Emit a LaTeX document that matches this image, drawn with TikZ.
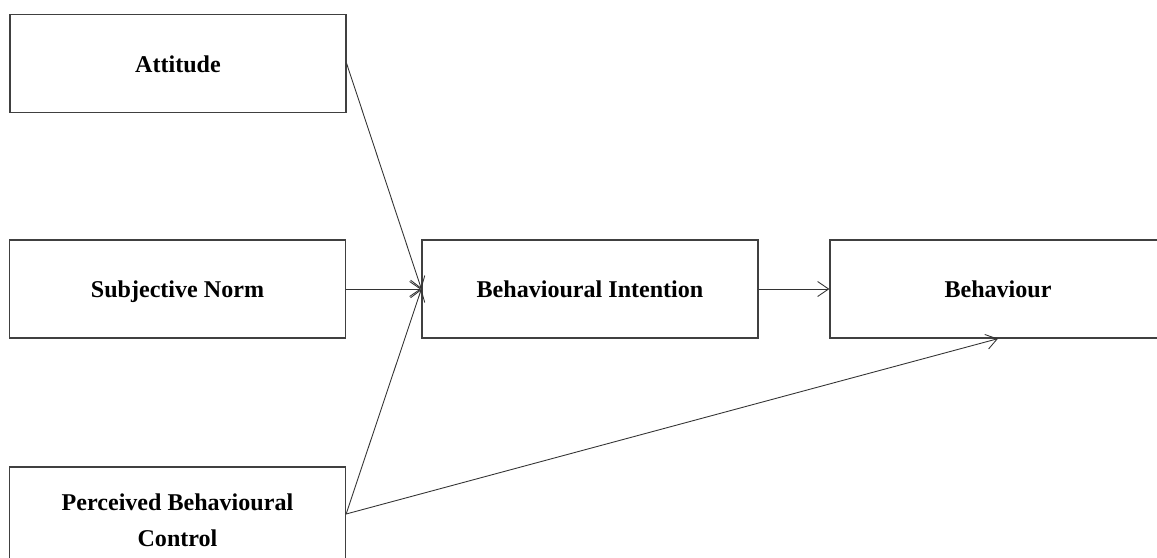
\documentclass[tikz,border=0pt]{standalone}
\usepackage{fontspec}
\setmainfont{Liberation Serif}
\usepackage{tikz}
\usetikzlibrary{positioning,arrows.meta}

\tikzset{
  tpbbox/.style={draw=black!75, line width=0.75pt, minimum width=6.72cm, minimum height=1.96cm,
    align=center, font=\fontsize{13.7}{20.5}\selectfont\bfseries},
  tpbline/.style={tpbbox, text height=2.4ex, text depth=0.2ex},
  tpbarrow/.style={-{Straight Barb[length=2.2mm, width=3mm]}, draw=black!80, line width=0.5pt}
}

\begin{document}
\begin{tikzpicture}[x=0.02cm, y=-0.02cm]
        \useasboundingbox (0,0) rectangle (1157,558);
        \node[tpbline] (att) at (178,63.5) {Attitude};
        \node[tpbline] (sn) at (177.5,289) {Subjective Norm};
        \node[tpbbox, minimum height=2.12cm] (pbc) at (177.5,520) {Perceived Behavioural\\Control};
        \node[tpbline] (bi) at (590,289) {Behavioural Intention};
        \node[tpbline] (beh) at (998,289) {Behaviour};
        % outgoing point of the control box
        \coordinate (pbcout) at ([yshift=0.12cm]pbc.east);
        \draw[tpbarrow] (att.east) -- (bi.west);
        \draw[tpbarrow] (sn.east) -- (bi.west);
        \draw[tpbarrow] (pbcout) -- (bi.west);
        \draw[tpbarrow] (bi.east) -- (beh.west);
        \draw[tpbarrow] (pbcout) -- (beh.south);
    \end{tikzpicture}
\end{document}
